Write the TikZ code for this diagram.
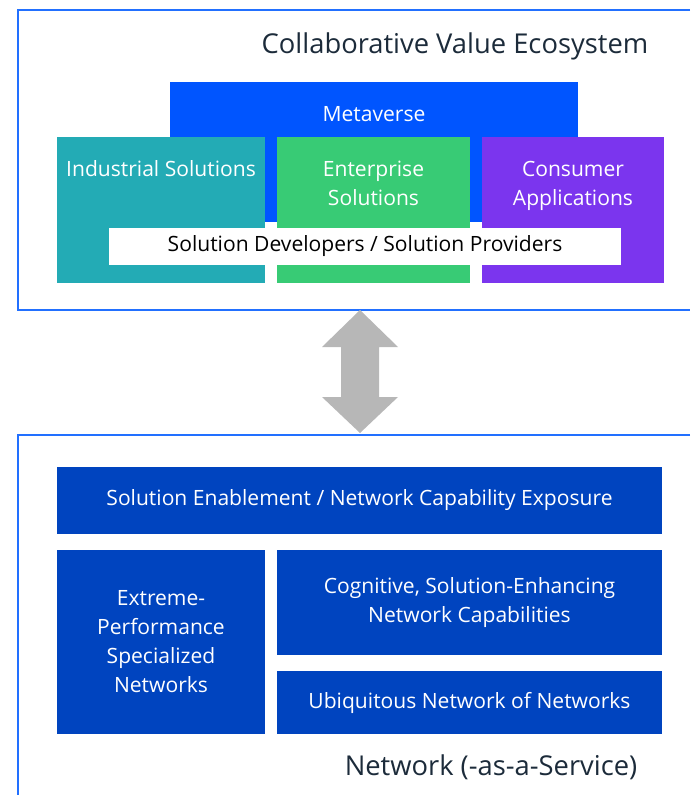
\documentclass[tikz,border=0pt]{standalone}
\usepackage{fontspec}
\setmainfont{Open Sans}
\usetikzlibrary{positioning}

\definecolor{framecol}{HTML}{2270FF}
\definecolor{metacol}{HTML}{0055FF}
\definecolor{indcol}{HTML}{23ABB5}
\definecolor{entcol}{HTML}{38CB75}
\definecolor{concol}{HTML}{7B35EE}
\definecolor{netcol}{HTML}{0044BF}
\definecolor{arrowcol}{HTML}{B7B7B7}
\definecolor{titlecol}{HTML}{1C2B3A}

\begin{document}
\begin{tikzpicture}[x=0.75pt,y=-0.75pt]

\tikzset{box/.style = {draw=none,inner sep=0pt,align=center,text=white,font=\fontsize{15.8}{21.75}\selectfont}}
\tikzset{toptext/.style = {anchor=north,align=center,text=white,font=\fontsize{15.8}{21.75}\selectfont}}
\tikzset{frame/.style = {draw=framecol,line width=1.6pt}}
\tikzset{title/.style = {text=titlecol,font=\fontsize{20.5}{24}\selectfont}}
\useasboundingbox (0,0) rectangle (690,795);
%frames
\draw[frame] (690,10) -| (18,310) -- (690,310);
\draw[frame] (690,435) -| (18,800);
\node[title] (ecosys) at (455,46) {Collaborative Value Ecosystem};
\node[title] (naas) at (491,767) {Network (-as-a-Service)};
%ecosystem boxes
\node[box, fill=metacol, minimum width=306pt, minimum height=105pt,
  label={[toptext,yshift=-15pt]north:Metaverse}] (meta) at (374,152) {};
\node[box, fill=indcol, minimum width=156pt, minimum height=109.5pt,
  label={[toptext,yshift=-14.5pt]north:Industrial Solutions}] (ind) at (161,210) {};
\node[box, fill=entcol, minimum width=144.75pt, minimum height=109.5pt,
  label={[toptext,yshift=-14.5pt]north:Enterprise\\Solutions}] (ent) at (373.5,210) {};
\node[box, fill=concol, minimum width=136.5pt, minimum height=109.5pt,
  label={[toptext,yshift=-14.5pt]north:Consumer\\Applications}] (con) at (573,210) {};
\node[box, fill=white, text=black, minimum width=384pt, minimum height=27.75pt] (dev) at (365,246.5) {\raisebox{-2pt}{Solution Developers / Solution Providers}};
%arrow
\coordinate (up) at (360,310);
\coordinate (down) at (360,433);
\fill[arrowcol] (up) -- ++(38,37) -- ++(-19,0) -- ++(0,50) -- ++(19,0) -- (down)
  -- ++(-38,-36) -- ++(19,0) -- ++(0,-50) -- ++(-19,0) -- cycle;
%network boxes
\node[box, fill=netcol, minimum width=453.75pt, minimum height=50.25pt] (enable) at (359.5,500.5) {\raisebox{-2pt}{Solution Enablement / Network Capability Exposure}};
\node[box, fill=netcol, minimum width=156pt, minimum height=138pt] (extreme) at (161,642) {Extreme-\\Performance\\Specialized\\Networks};
\node[box, fill=netcol, minimum width=288.75pt, minimum height=78.75pt] (cog) at (469.5,602.5) {Cognitive, Solution-Enhancing\\Network Capabilities};
\node[box, fill=netcol, minimum width=288.75pt, minimum height=47.25pt] (ubi) at (469.5,702.5) {\raisebox{-2pt}{Ubiquitous Network of Networks}};

\end{tikzpicture}
\end{document}
